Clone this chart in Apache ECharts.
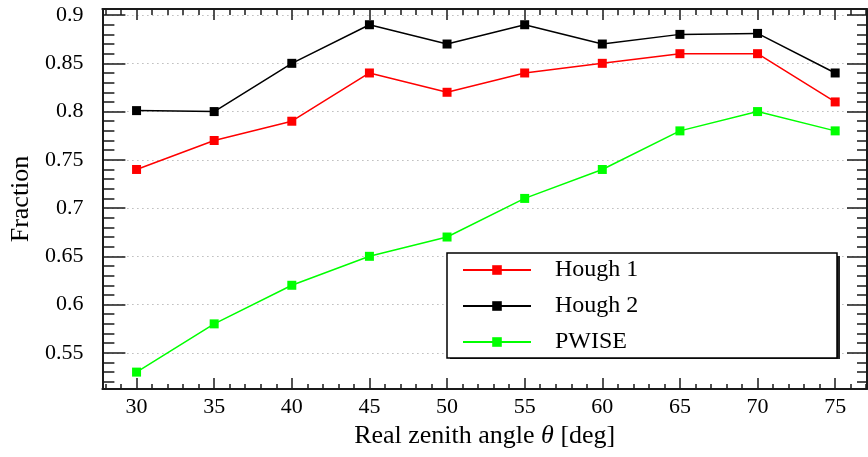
<!DOCTYPE html>
<html>
<head>
<meta charset="utf-8">
<script src="https://cdn.jsdelivr.net/npm/echarts@6/dist/echarts.min.js"></script>
<style>html,body{margin:0;padding:0;background:#fff}#c{width:868px;height:457px}</style>
</head>
<body>
<div id="c"></div>
<script>
// ---- data ----
const angles = [30, 35, 40, 45, 50, 55, 60, 65, 70, 75];
const hough1 = [0.74, 0.77, 0.79, 0.84, 0.82, 0.84, 0.85, 0.86, 0.86, 0.81];
const hough2 = [0.801, 0.80, 0.85, 0.89, 0.87, 0.89, 0.87, 0.88, 0.881, 0.84];
const pwise  = [0.53, 0.58, 0.62, 0.65, 0.67, 0.71, 0.74, 0.78, 0.80, 0.78];
const xTicks = [30, 35, 40, 45, 50, 55, 60, 65, 70, 75];
const yTicks = [0.55, 0.6, 0.65, 0.7, 0.75, 0.8, 0.85, 0.9];
const seriesNames = ['Hough 1', 'Hough 2', 'PWISE'];
const seriesColors = ['#ff0000', '#000000', '#00ff00'];

const X_MIN = 27.8, X_MAX = 77.05;
const Y_MIN = 0.5125, Y_MAX = 0.9063;

// minor tick positions (every 1 deg, every 0.01)
const xMinor = [];
for (let v = 28; v <= 77; v++) if (v % 5 !== 0) xMinor.push(v);
const yMinor = [];
for (let k = 52; k <= 90; k++) if (k % 5 !== 0) yMinor.push(k / 100);

const FONT = "'Liberation Serif','Times New Roman',serif";
const AX = '#1a1a1a';

function xAx(pos, values, len, showLine, labels) {
  return {
    type: 'value', position: pos, min: X_MIN, max: X_MAX,
    axisLine: { show: showLine, onZero: false, lineStyle: { color: AX, width: 2 } },
    axisTick: { show: true, inside: true, length: len, customValues: values, lineStyle: { color: AX, width: 1.5 } },
    axisLabel: labels ? { show: true, customValues: values, margin: 7, fontFamily: FONT, fontSize: 22, color: '#000' } : { show: false },
    splitLine: { show: false },
    name: labels ? 'Real zenith angle {i|θ} [deg]' : '',
    nameLocation: 'middle', nameGap: 34,
    nameTextStyle: { fontFamily: FONT, fontSize: 26, color: '#000', rich: { i: { fontFamily: FONT, fontSize: 26, fontStyle: 'italic', color: '#000' } } }
  };
}
function yAx(pos, values, len, showLine, labels, split) {
  return {
    type: 'value', position: pos, min: Y_MIN, max: Y_MAX,
    axisLine: { show: showLine, onZero: false, lineStyle: { color: AX, width: 2 } },
    axisTick: { show: true, inside: true, length: len, customValues: values, lineStyle: { color: AX, width: 1.5 } },
    axisLabel: labels ? { show: true, customValues: values, margin: 19, fontFamily: FONT, fontSize: 22, color: '#000', formatter: v => String(+v.toFixed(2)) } : { show: false },
    splitLine: split ? { show: true, lineStyle: { color: '#999', type: [1, 4], width: 1 } } : { show: false },
    name: labels ? 'Fraction' : '',
    nameLocation: 'middle', nameGap: 60, nameRotate: 90,
    nameTextStyle: { fontFamily: FONT, fontSize: 26, color: '#000' }
  };
}

const chart = echarts.init(document.getElementById('c'), null, { renderer: 'canvas' });
const vals = [hough1, hough2, pwise];
chart.setOption({
  animation: false,
  backgroundColor: '#fff',
  grid: { left: 101, right: 1, top: 9, bottom: 68, containLabel: false },
  xAxis: [
    xAx('bottom', xTicks, 11, true, true),
    xAx('bottom', xMinor, 5, false, false),
    xAx('top', xTicks, 11, true, false),
    xAx('top', xMinor, 6, false, false)
  ],
  yAxis: [
    yAx('left', yTicks, 23, true, true, true),
    yAx('left', yMinor, 12, false, false, false),
    yAx('right', yTicks, 20, true, false, false),
    yAx('right', yMinor, 10, false, false, false)
  ],
  graphic: [{
    type: 'rect', left: 450, top: 256, z: 50,
    shape: { width: 390, height: 103 },
    style: { fill: '#222' }
  }],
  legend: {
    orient: 'vertical', left: 447, top: 253, z: 60,
    data: seriesNames,
    itemWidth: 68, itemHeight: 12, itemGap: 10,
    padding: [4, 12, 3, 15],
    backgroundColor: '#fff', borderColor: '#000', borderWidth: 1.5, borderRadius: 0,
    textStyle: { fontFamily: FONT, fontSize: 24, color: '#000', lineHeight: 26, width: 270, padding: [0, 0, 0, 19] }
  },
  series: seriesNames.map((n, i) => ({
    name: n, type: 'line', xAxisIndex: 0, yAxisIndex: 0,
    data: angles.map((a, j) => [a, vals[i][j]]),
    symbol: 'rect', symbolSize: 9,
    lineStyle: { color: seriesColors[i], width: 1.5 },
    itemStyle: { color: seriesColors[i] },
    z: 3 - i
  }))
});
</script>
</body>
</html>
